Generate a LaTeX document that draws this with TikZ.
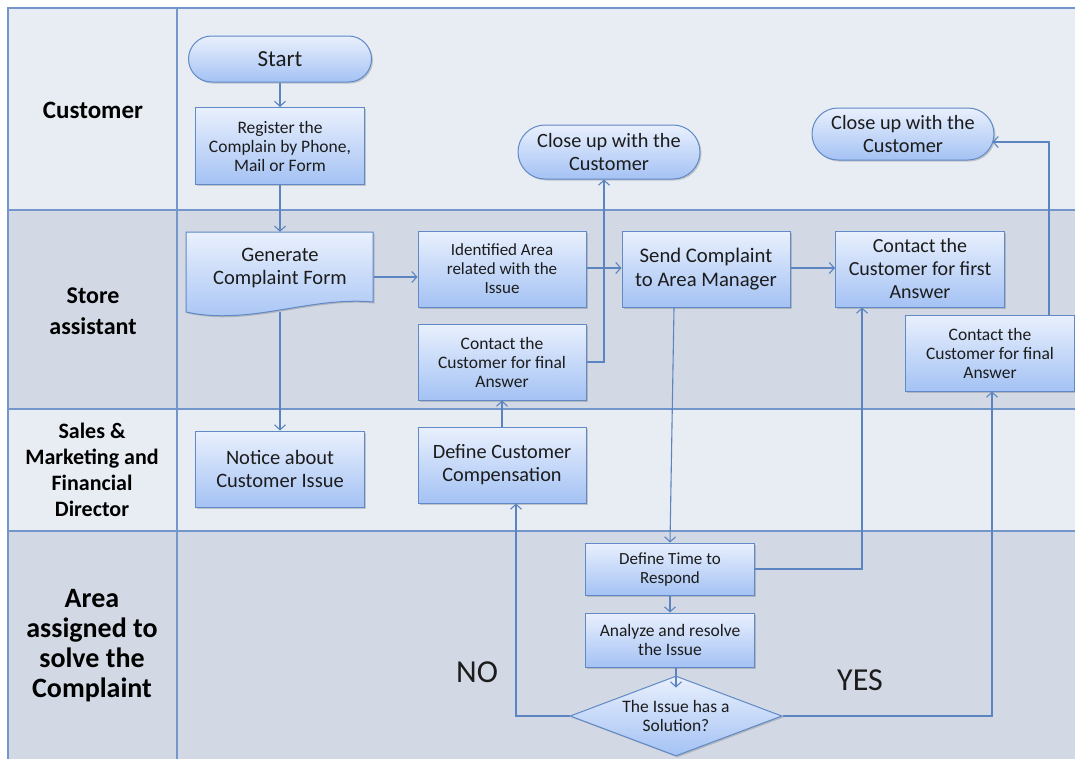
\documentclass[tikz,border=0pt]{standalone}
\usepackage{fontspec}
\setmainfont{Carlito}
\usetikzlibrary{arrows.meta,shapes.misc,shapes.geometric,shadows}
\definecolor{laneA}{HTML}{E8ECF3}
\definecolor{laneB}{HTML}{D2D9E5}
\definecolor{laneline}{HTML}{7396CB}
\definecolor{conn}{HTML}{5B84C0}
\definecolor{boxtop}{HTML}{E9F0FD}
\definecolor{boxbot}{HTML}{A4C2F4}
\definecolor{boxline}{HTML}{6089C6}
\definecolor{txt}{HTML}{1C1C1C}
\newcommand{\fs}[2]{\fontsize{#1}{#2}\selectfont}
\begin{document}
\begin{tikzpicture}[x=1pt,y=-1pt,
  boxshape/.style={draw=boxline, line width=1pt, top color=boxtop, bottom color=boxbot,
    drop shadow={opacity=0.3,shadow xshift=1.5pt,shadow yshift=-1.5pt,fill=black!60}},
  box/.style={boxshape, rectangle, align=center, text=txt, inner sep=2pt},
  pill/.style={boxshape, rounded rectangle, align=center, text=txt, inner sep=2pt},
  dia/.style={boxshape, diamond, shape aspect=2.65, align=center, text=txt, inner sep=0pt},
  plain/.style={align=center, text=txt, inner sep=0pt},
  lanelabel/.style={align=center, text=black, font=\bfseries},
  arr/.style={draw=conn, line width=1.1pt, -{Straight Barb[length=5pt,width=11pt]}},
  lane/.style={draw=laneline, line width=1.3pt}
]
\useasboundingbox (0,0) rectangle (1075,758);
\clip (0,0) rectangle (1075,758);
% lanes
\fill[white] (0,0) rectangle (1075,758);
\fill[laneA] (8,8) rectangle (1090,210);
\fill[laneB] (8,210) rectangle (1090,409);
\fill[laneA] (8,409) rectangle (1090,531);
\fill[laneB] (8,531) rectangle (1090,770);
\draw[lane] (8,770) -- (8,8) -- (1090,8);
\draw[lane] (8,210) -- (1090,210);
\draw[lane] (8,409) -- (1090,409);
\draw[lane] (8,531) -- (1090,531);
\draw[lane] (177,8) -- (177,770);

% lane labels
\node[lanelabel, font=\bfseries\fs{25}{26}] (lcust) at (93,110) {Customer};
\node[lanelabel, font=\bfseries\fs{24}{31}] (lstore) at (93,311) {Store\\assistant};
\node[lanelabel, font=\bfseries\fs{22}{26}] (lsales) at (92,470) {Sales \&\\Marketing and\\Financial\\Director};
\node[lanelabel, font=\bfseries\fs{28}{30}] (larea) at (92,646) {Area\\assigned to\\solve the\\Complaint};

% nodes
\node[pill, minimum width=187pt, minimum height=46pt, font=\fs{23}{24}] (start) at (280,59) {Start};
\node[box, minimum width=169pt, minimum height=77pt, font=\fs{17.5}{19}] (reg) at (280,146) {Register the\\Complain by Phone,\\Mail or Form};
\path[boxshape] (186,232) -- (373,232) -- (373,302) .. controls (310,296) and (250,326) .. (186,312) -- cycle;
\node[plain, minimum width=187pt, minimum height=72pt, font=\fs{20.5}{23}] (gen) at (280,268) {Generate\\Complaint Form};
\node[box, minimum width=169pt, minimum height=76pt, font=\fs{20.5}{23}] (notice) at (280,469) {Notice about\\Customer Issue};
\node[box, minimum width=168pt, minimum height=76pt, font=\fs{17}{19}] (ident) at (502,269) {Identified Area\\related with the\\Issue};
\node[box, minimum width=168pt, minimum height=76pt, font=\fs{17.5}{19}] (cfin1) at (502,362) {Contact the\\Customer for final\\Answer};
\node[pill, minimum width=186pt, minimum height=54pt, font=\fs{20.3}{23}] (close1) at (609,152) {Close up with the\\Customer};
\node[box, minimum width=168pt, minimum height=76pt, font=\fs{20.7}{24}] (send) at (706,269) {Send Complaint\\to Area Manager};
\node[box, minimum width=169pt, minimum height=76pt, font=\fs{20}{23}] (cfirst) at (920,269) {Contact the\\Customer for first\\Answer};
\node[box, minimum width=169pt, minimum height=76pt, font=\fs{17.5}{19}] (cfin2) at (990,353) {Contact the\\Customer for final\\Answer};
\node[pill, minimum width=186pt, minimum height=52pt, font=\fs{20.3}{23}] (close2) at (903,134) {Close up with the\\Customer};
\node[box, minimum width=168pt, minimum height=76pt, font=\fs{20.3}{23}] (comp) at (502,465) {Define Customer\\Compensation};
\node[box, minimum width=169pt, minimum height=52pt, font=\fs{17}{19}] (time) at (670,569) {Define Time to\\Respond};
\node[box, minimum width=169pt, minimum height=54pt, font=\fs{17.5}{19}] (anal) at (670,640) {Analyze and resolve\\the Issue};
\node[dia, minimum width=212pt, minimum height=80pt, font=\fs{17.5}{19}] (dec) at (676,716) {The Issue has a\\Solution?};

\node[plain, font=\fs{32}{34}] (no) at (477,672) {NO};
\node[plain, font=\fs{32}{34}] (yes) at (860,680) {YES};

% connectors
\draw[arr] (start.south) -- (reg.north);
\draw[arr] (reg.south) -- (gen.north);
\draw[arr] ([yshift=-8pt]gen.south) -- (notice.north);
\draw[arr] ([yshift=-9pt]gen.east) -- ([yshift=-8pt]ident.west);
\draw[arr] ([yshift=1pt]ident.east) -- ([yshift=1pt]send.west);
\draw[arr] ([yshift=1pt]send.east) -- ([yshift=1pt]cfirst.west);
\draw[arr] (cfin1.east) -| ([xshift=-5pt]close1.south);
\draw[arr] ([xshift=-32pt]send.south) -- (time.north);
\draw[arr] (time.east) -| ([xshift=-58pt]cfirst.south);
\draw[arr] (time.south) -- (anal.north);
\draw[arr] ([xshift=6pt]anal.south) -- ([yshift=-12pt]dec.north);
\draw[arr] (dec.west) -| ([xshift=14pt]comp.south);
\draw[arr] (comp.north) -- (cfin1.south);
\draw[arr] (dec.east) -| ([xshift=2pt]cfin2.south);
\draw[arr] ([xshift=59pt]cfin2.north) |- ([xshift=-2pt,yshift=-8pt]close2.east);
\end{tikzpicture}
\end{document}
